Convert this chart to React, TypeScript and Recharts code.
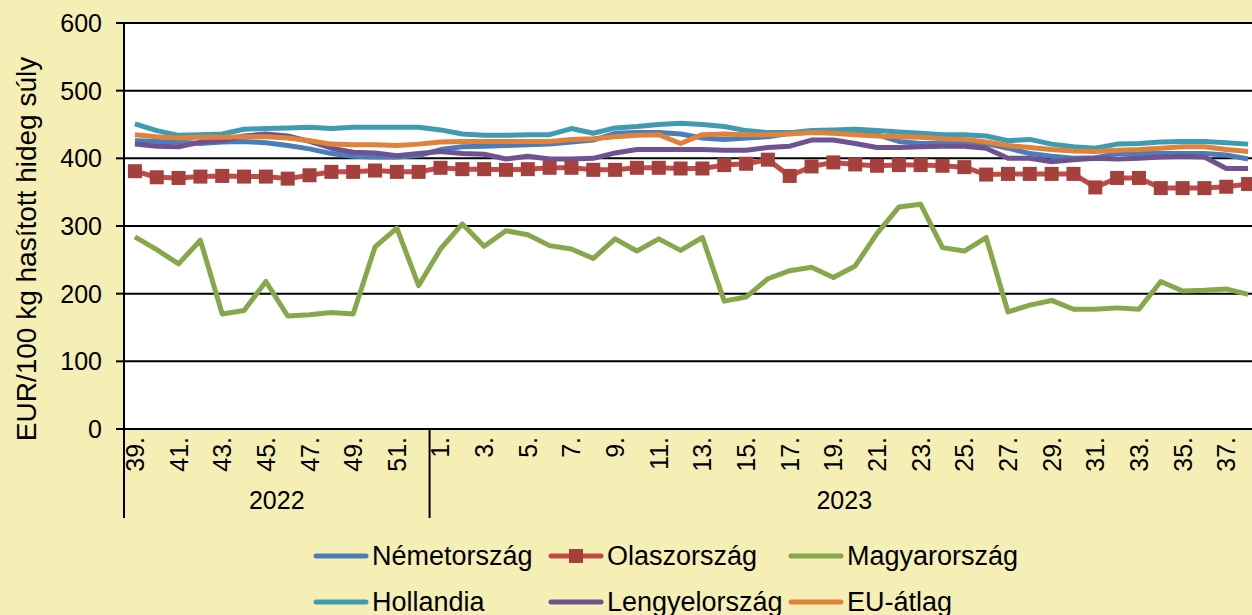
import { LineChart, Line, XAxis, YAxis, CartesianGrid, Legend } from "recharts";

// week labels, split by year
const weeks2022 = ["39.", "40.", "41.", "42.", "43.", "44.", "45.", "46.", "47.", "48.", "49.", "50.", "51.", "52."];
const weeks2023 = [
  "1.", "2.", "3.", "4.", "5.", "6.", "7.", "8.", "9.", "10.", "11.", "12.", "13.", "14.", "15.", "16.", "17.", "18.", "19.",
  "20.", "21.", "22.", "23.", "24.", "25.", "26.", "27.", "28.", "29.", "30.", "31.", "32.", "33.", "34.", "35.", "36.", "37.", "38.",
];
const years = ["2022", "2023"];

// EUR/100 kg
const nemetorszag = [
  426, 425, 424, 422, 424, 425, 423, 419, 414, 407, 403, 402, 402, 404,
  413, 417, 418, 419, 420, 421, 424, 427, 437, 438, 438, 436, 430,
  428, 430, 432, 437, 439, 441, 441, 435, 425, 422, 422, 423,
  422, 415, 407, 403, 400, 401, 407, 407, 407, 407, 407, 405, 399,
];
const olaszorszag = [
  381, 372, 371, 373, 374, 373, 373, 370, 375, 380, 380, 382, 380, 380,
  386, 384, 384, 383, 384, 386, 386, 383, 383, 386, 386, 385, 385,
  390, 392, 398, 374, 388, 394, 391, 389, 390, 390, 389, 387,
  376, 377, 377, 377, 377, 357, 371, 371, 356, 356, 356, 358, 362,
];
const magyarorszag = [
  284, 265, 244, 279, 170, 175, 218, 167, 169, 172, 170, 269, 297, 212,
  266, 303, 270, 293, 287, 271, 266, 252, 281, 263, 281, 264, 283,
  189, 195, 222, 234, 239, 224, 241, 289, 328, 332, 268, 263,
  283, 173, 183, 190, 177, 177, 179, 177, 218, 204, 205, 207, 199,
];
const hollandia = [
  451, 441, 434, 435, 436, 443, 444, 445, 446, 444, 446, 446, 446, 446,
  442, 436, 434, 434, 435, 435, 444, 437, 445, 447, 450, 452, 450,
  447, 441, 438, 438, 441, 442, 443, 441, 439, 437, 435, 435,
  433, 426, 428, 421, 417, 415, 421, 422, 424, 425, 425, 423, 421,
];
const lengyelorszag = [
  421, 418, 417, 424, 426, 433, 436, 433, 425, 415, 409, 408, 404, 407,
  410, 407, 406, 399, 403, 399, 399, 400, 408, 413, 413, 413, 413,
  412, 412, 416, 418, 427, 427, 422, 416, 416, 417, 418, 418,
  415, 400, 400, 395, 398, 400, 399, 400, 402, 403, 402, 385, 385,
];
const euAtlag = [
  435, 432, 430, 431, 431, 432, 432, 430, 426, 421, 420, 420, 419, 421,
  424, 425, 425, 425, 425, 425, 428, 429, 432, 434, 435, 422, 435,
  436, 435, 435, 436, 438, 437, 435, 433, 432, 431, 429, 428,
  424, 419, 416, 413, 411, 410, 412, 413, 415, 417, 417, 413, 410,
];
const yTicks = [0, 100, 200, 300, 400, 500, 600];

const series = [
  { key: "nemet", name: "Németország", color: "#4A7EBB" },
  { key: "olasz", name: "Olaszország", color: "#BE4B48", marker: "#A5403D" },
  { key: "magyar", name: "Magyarország", color: "#86A84A" },
  { key: "holland", name: "Hollandia", color: "#3F9BB2" },
  { key: "lengyel", name: "Lengyelország", color: "#6F5292" },
  { key: "eu", name: "EU-átlag", color: "#E0823A" },
];

const weeks = [...weeks2022.map((w) => ({ week: w, year: years[0] })), ...weeks2023.map((w) => ({ week: w, year: years[1] }))];
const data = weeks.map((w, i) => ({
  ...w,
  nemet: nemetorszag[i],
  olasz: olaszorszag[i],
  magyar: magyarorszag[i],
  holland: hollandia[i],
  lengyel: lengyelorszag[i],
  eu: euAtlag[i],
}));

const FONT = "'Liberation Sans', Arial, sans-serif";
const CHART_W = 1270;
const CHART_H = 615;
const Y_W = 124;
const MARGIN = { top: 23, right: 11, left: 0, bottom: 0 };
const PLOT_W = CHART_W - Y_W - MARGIN.left - MARGIN.right;
const BAND = PLOT_W / data.length;

const WeekTick = (props: any) => {
  const { x, y, index } = props;
  const row = data[index];
  if (!row) return null;
  const groupStart = index === 0 || data[index - 1].year !== row.year;
  const start = data.findIndex((d) => d.year === row.year);
  const n = data.filter((d) => d.year === row.year).length;
  const midIdx = n % 2 === 0 ? start + n / 2 - 1 : start + (n - 1) / 2;
  const midX = n % 2 === 0 ? x + BAND / 2 : x;
  return (
    <g>
      {index % 2 === 0 && (
        <text
          x={x}
          y={y + 8}
          transform={`rotate(-90, ${x}, ${y + 8})`}
          textAnchor="end"
          dy="0.36em"
          fontSize={25}
          fontFamily={FONT}
          fill="#000"
        >
          {row.week}
        </text>
      )}
      {groupStart && (
        <line x1={x - BAND / 2} x2={x - BAND / 2} y1={y} y2={y + 89} stroke="#000" strokeWidth={2} />
      )}
      {index === midIdx && (
        <text x={midX} y={y + 80} textAnchor="middle" fontSize={25} fontFamily={FONT} fill="#000">
          {row.year}
        </text>
      )}
    </g>
  );
};

const SquareDot = (props: any) => {
  const { cx, cy } = props;
  if (cx == null || cy == null) return null;
  return <rect x={cx - 7} y={cy - 7} width={14} height={14} fill="#A5403D" />;
};

const LegendContent = () => (
  <div
    style={{
      display: "grid",
      gridTemplateColumns: "235px 240px 260px",
      gridAutoRows: "46px",
      paddingLeft: 313,
      fontFamily: FONT,
      fontSize: 27,
      color: "#000",
    }}
  >
    {series.map((s) => (
      <div key={s.key} style={{ display: "flex", alignItems: "center" }}>
        <svg width={58} height={20}>
          <line x1={3} x2={53} y1={10} y2={10} stroke={s.color} strokeWidth={5} strokeLinecap="round" />
          {s.marker && <rect x={21} y={3} width={14} height={14} fill={s.marker} />}
        </svg>
        <span style={{ marginLeft: 1, lineHeight: 1 }}>{s.name}</span>
      </div>
    ))}
  </div>
);

const App = () => {
  return (
    <div
      style={{
        position: "absolute",
        top: 0,
        left: 0,
        width: 1252,
        height: 615,
        overflow: "hidden",
        background: "#F5EEB5",
      }}
    >
      <LineChart width={CHART_W} height={CHART_H} data={data} margin={MARGIN}>
        <CartesianGrid vertical={false} stroke="#000" strokeWidth={2} fill="#fff" fillOpacity={1} />
        <XAxis
          dataKey="week"
          interval={0}
          tick={<WeekTick />}
          tickLine={false}
          tickSize={0}
          tickMargin={0}
          height={186}
          padding={{ left: BAND / 2, right: BAND / 2 }}
          axisLine={{ stroke: "#000", strokeWidth: 2 }}
        />
        <YAxis
          width={Y_W}
          domain={[0, 600]}
          ticks={yTicks}
          interval={0}
          tickSize={8}
          tickMargin={14}
          axisLine={{ stroke: "#000", strokeWidth: 2 }}
          tickLine={{ stroke: "#000", strokeWidth: 2 }}
          tick={{ fill: "#000", fontSize: 25, fontFamily: FONT }}
          label={{
            content: () => (
              <text
                x={26}
                y={249}
                transform="rotate(-90, 26, 249)"
                textAnchor="middle"
                dominantBaseline="central"
                fontSize={28}
                fontFamily={FONT}
                fill="#000"
              >
                EUR/100 kg hasított hideg súly
              </text>
            ),
          }}
        />
        <Legend
          layout="horizontal"
          verticalAlign="middle"
          content={<LegendContent />}
          wrapperStyle={{ top: 533, left: 0, bottom: "auto", right: "auto", width: 1252, margin: 0, padding: 0 }}
        />
        {series.map((s) => (
          <Line
            key={s.key}
            type="linear"
            dataKey={s.key}
            name={s.name}
            stroke={s.color}
            strokeWidth={5}
            strokeLinejoin="round"
            dot={s.marker ? <SquareDot /> : false}
            activeDot={false}
            isAnimationActive={false}
          />
        ))}
      </LineChart>
    </div>
  );
};

export default App;
